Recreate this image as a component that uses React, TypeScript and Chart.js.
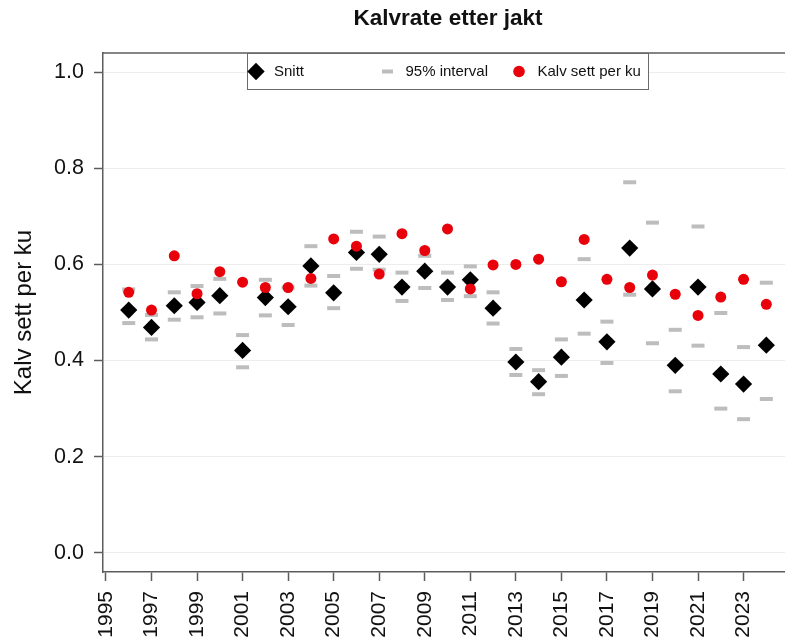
import React, { useEffect, useRef } from 'react';
import { Chart, registerables } from 'chart.js';

Chart.register(...registerables);

// ---- data ----
const years = [1996, 1997, 1998, 1999, 2000, 2001, 2002, 2003, 2004, 2005, 2006, 2007, 2008, 2009, 2010,
  2011, 2012, 2013, 2014, 2015, 2016, 2017, 2018, 2019, 2020, 2021, 2022, 2023, 2024];
const snitt = [0.505, 0.469, 0.514, 0.521, 0.535, 0.421, 0.531, 0.512, 0.597, 0.541, 0.625, 0.621, 0.553, 0.586, 0.553,
  0.568, 0.509, 0.397, 0.356, 0.407, 0.526, 0.439, 0.634, 0.549, 0.390, 0.553, 0.372, 0.351, 0.432];
const intervalUpper = [0.548, 0.495, 0.542, 0.555, 0.570, 0.453, 0.568, 0.552, 0.638, 0.576, 0.668, 0.658, 0.583, 0.618, 0.583,
  0.596, 0.542, 0.424, 0.380, 0.444, 0.611, 0.481, 0.771, 0.687, 0.464, 0.679, 0.499, 0.428, 0.562];
const intervalLower = [0.478, 0.444, 0.485, 0.490, 0.498, 0.386, 0.494, 0.474, 0.556, 0.509, 0.591, 0.589, 0.524, 0.551, 0.526,
  0.534, 0.477, 0.370, 0.330, 0.368, 0.456, 0.395, 0.537, 0.436, 0.336, 0.431, 0.300, 0.278, 0.320];
const kalvPerKu = [0.542, 0.505, 0.618, 0.539, 0.585, 0.563, 0.552, 0.552, 0.571, 0.653, 0.638, 0.580, 0.664, 0.629, 0.674,
  0.549, 0.599, 0.600, 0.611, 0.564, 0.652, 0.569, 0.552, 0.578, 0.538, 0.494, 0.532, 0.569, 0.517];
const xTickYears = [1995, 1997, 1999, 2001, 2003, 2005, 2007, 2009, 2011, 2013, 2015, 2017, 2019, 2021, 2023];
const yTickValues = [0, 0.2, 0.4, 0.6, 0.8, 1.0];
const chartTitle = 'Kalvrate etter jakt';
const yAxisTitle = 'Kalv sett per ku';
const legendLabels = ['Snitt', '95% interval', 'Kalv sett per ku'];

// ---- styles ----
const FONT = '"Liberation Sans", Arial, Helvetica, sans-serif';
const AXIS = '#5c5c5c';
const GRAY = '#bdbdbd';
const RED = '#e8000a';
const TEXT = '#111111';

const toPts = (vals: number[]) => years.map((y, i) => ({ x: y, y: vals[i] }));

const decorPlugin = {
  id: 'decor',
  afterDraw(chart: any) {
    const { ctx, chartArea } = chart;
    ctx.save();
    // top frame line
    ctx.strokeStyle = AXIS;
    ctx.lineWidth = 1.5;
    ctx.beginPath();
    ctx.moveTo(chartArea.left, chartArea.top);
    ctx.lineTo(chartArea.right, chartArea.top);
    ctx.stroke();

    // title
    ctx.fillStyle = TEXT;
    ctx.font = `bold 22.5px ${FONT}`;
    ctx.textAlign = 'center';
    ctx.textBaseline = 'middle';
    ctx.fillText(chartTitle, 448, 19);

    // legend box
    const bx = 247, by = chartArea.top, bw = 401, bh = 36;
    ctx.fillStyle = '#ffffff';
    ctx.fillRect(bx, by, bw, bh);
    ctx.strokeStyle = '#6a6a6a';
    ctx.lineWidth = 1;
    ctx.strokeRect(bx + 0.5, by + 0.5, bw, bh);
    const cy = by + 18.5;
    // diamond
    ctx.fillStyle = '#000';
    ctx.beginPath();
    ctx.moveTo(256 - 8.7, cy);
    ctx.lineTo(256, cy - 8.7);
    ctx.lineTo(256 + 8.7, cy);
    ctx.lineTo(256, cy + 8.7);
    ctx.closePath();
    ctx.fill();
    // gray dash
    ctx.strokeStyle = GRAY;
    ctx.lineWidth = 4;
    ctx.beginPath();
    ctx.moveTo(382, cy);
    ctx.lineTo(393, cy);
    ctx.stroke();
    // red dot
    ctx.fillStyle = RED;
    ctx.beginPath();
    ctx.arc(519, cy, 5.8, 0, Math.PI * 2);
    ctx.fill();
    // texts
    ctx.fillStyle = TEXT;
    ctx.font = `15px ${FONT}`;
    ctx.textAlign = 'left';
    ctx.textBaseline = 'middle';
    ctx.fillText(legendLabels[0], 274, cy + 0.5);
    ctx.fillText(legendLabels[1], 405.5, cy + 0.5);
    ctx.fillText(legendLabels[2], 537.5, cy + 0.5);
    ctx.restore();
  },
};

export default function App() {
  const ref = useRef<HTMLCanvasElement>(null);

  useEffect(() => {
    const canvas = ref.current;
    if (!canvas) return;
    const chart = new Chart(canvas, {
      type: 'scatter',
      data: {
        datasets: [
          {
            label: legendLabels[2],
            data: toPts(kalvPerKu),
            pointStyle: 'circle',
            pointRadius: 5.5,
            pointBackgroundColor: RED,
            pointBorderWidth: 0,
            showLine: false,
            order: 0,
          },
          {
            label: legendLabels[1] + ' upper',
            data: toPts(intervalUpper),
            pointStyle: 'line',
            pointRadius: 6.5,
            pointBorderColor: GRAY,
            pointBorderWidth: 4,
            showLine: false,
            order: 1,
          },
          {
            label: legendLabels[1] + ' lower',
            data: toPts(intervalLower),
            pointStyle: 'line',
            pointRadius: 6.5,
            pointBorderColor: GRAY,
            pointBorderWidth: 4,
            showLine: false,
            order: 1,
          },
          {
            label: legendLabels[0],
            data: toPts(snitt),
            pointStyle: 'rectRot',
            pointRadius: 8.6,
            pointBackgroundColor: '#000',
            pointBorderWidth: 0,
            showLine: false,
            order: 2,
          },
        ],
      },
      options: {
        responsive: false,
        animation: false,
        events: [],
        layout: { autoPadding: false, padding: { top: 53, left: 0, right: 0, bottom: 0 } },
        plugins: {
          legend: { display: false },
          title: { display: false },
          tooltip: { enabled: false },
        },
        scales: {
          x: {
            type: 'linear',
            min: 1994.87,
            max: 2024.82,
            bounds: 'data',
            afterBuildTicks: (scale: any) => {
              scale.ticks = xTickYears.map((v) => ({ value: v }));
            },
            afterFit: (scale: any) => {
              scale.height = 72;
              scale.paddingLeft = 0;
              scale.paddingRight = 0;
            },
            grid: {
              drawOnChartArea: false,
              drawTicks: true,
              tickLength: 9,
              tickColor: AXIS,
              tickWidth: 1.5,
            },
            border: { display: true, color: AXIS, width: 1.5 },
            ticks: {
              autoSkip: false,
              minRotation: 90,
              maxRotation: 90,
              padding: 10,
              color: TEXT,
              font: { family: FONT, size: 21 },
              callback: (v: any) => String(v),
            },
          },
          y: {
            type: 'linear',
            min: -0.04,
            max: 1.04,
            bounds: 'data',
            afterBuildTicks: (scale: any) => {
              scale.ticks = yTickValues.map((v) => ({ value: v }));
            },
            afterFit: (scale: any) => {
              scale.width = 103;
              scale.paddingTop = 0;
              scale.paddingBottom = 0;
            },
            grid: {
              color: '#ededed',
              lineWidth: 1,
              drawTicks: true,
              tickLength: 9,
              tickColor: AXIS,
              tickWidth: 1.5,
            },
            border: { display: true, color: AXIS, width: 1.5 },
            ticks: {
              padding: 10,
              color: TEXT,
              font: { family: FONT, size: 21.5 },
              callback: (v: any) => Number(v).toFixed(1),
            },
            title: {
              display: true,
              text: yAxisTitle,
              color: TEXT,
              font: { family: FONT, size: 24 },
              padding: { top: 10, bottom: 0 },
            },
          },
        },
      },
      plugins: [decorPlugin],
    } as any);
    return () => chart.destroy();
  }, []);

  return (
    <div style={{ position: 'fixed', left: 0, top: 0, width: 785, height: 644, overflow: 'hidden', background: '#fff' }}>
      <canvas ref={ref} width={785} height={644} style={{ display: 'block', width: 785, height: 644 }} />
    </div>
  );
}
